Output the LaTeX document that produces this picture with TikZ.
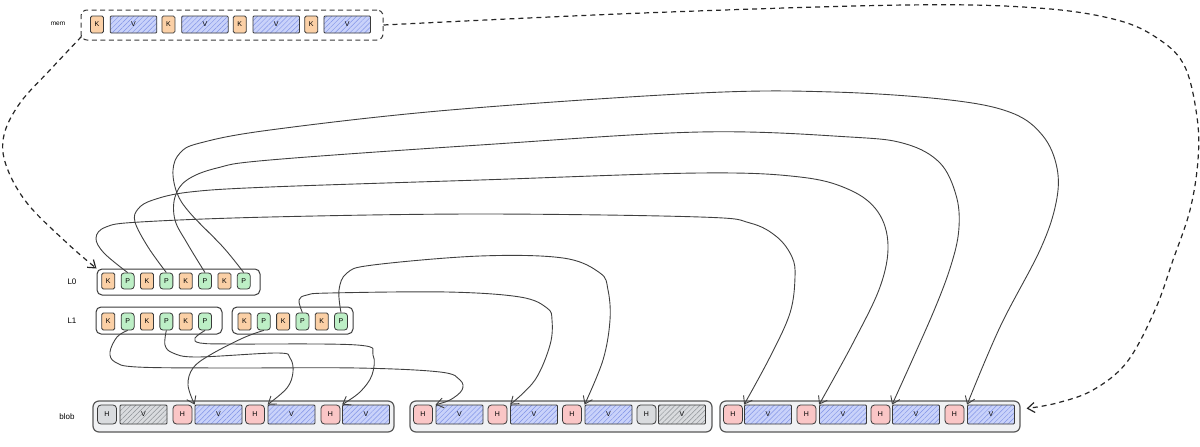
\documentclass[tikz,border=0pt]{standalone}
\usepackage{fontspec}
\setmainfont{Liberation Sans}
\usetikzlibrary{arrows.meta,patterns.meta}
\definecolor{kfill}{HTML}{FBD0A6}
\definecolor{pfill}{HTML}{BDEFC6}
\definecolor{vfill}{HTML}{C9D2FA}
\definecolor{vhatch}{HTML}{8093E6}
\definecolor{hfill}{HTML}{FAC6C6}
\definecolor{gfill}{HTML}{D9DBDE}
\definecolor{ghatch}{HTML}{8E9297}
\definecolor{stroke}{HTML}{3A3A3A}
\definecolor{blobfill}{HTML}{F0F1F3}
\begin{document}
\begin{tikzpicture}[x=1pt,y=-1pt,
  item/.style={draw=stroke,line width=0.8pt,inner sep=0pt,font=\fontsize{7}{8}\selectfont},
  kbox/.style={item,fill=kfill,rounded corners=1.5pt,minimum width=13pt,minimum height=16pt},
  pbox/.style={item,fill=pfill,rounded corners=3pt,minimum width=13pt,minimum height=16pt},
  hbox/.style={item,fill=hfill,rounded corners=3.5pt,minimum width=19pt,minimum height=19pt},
  ghbox/.style={item,fill=gfill,rounded corners=3.5pt,minimum width=19pt,minimum height=19pt},
  vbox/.style={item,preaction={fill=vfill},pattern={Lines[angle=45,distance=3.5pt,line width=0.45pt]},pattern color=vhatch,rounded corners=1pt,minimum width=47pt,minimum height=19pt},
  gvbox/.style={item,preaction={fill=gfill},pattern={Lines[angle=45,distance=3.5pt,line width=0.45pt]},pattern color=ghatch,rounded corners=1pt,minimum width=47pt,minimum height=19pt},
  groupbox/.style={draw=stroke,line width=1pt,fill=white,rounded corners=5pt,inner sep=0pt},
  blobbox/.style={draw=stroke!85,line width=1.2pt,fill=blobfill,rounded corners=6pt,inner sep=0pt},
  membox/.style={draw=stroke,line width=1pt,dash pattern=on 5pt off 3.5pt,rounded corners=6pt,inner sep=0pt},
  lab/.style={inner sep=0pt,font=\fontsize{8}{9}\selectfont},
  conn/.style={draw=black!75,line width=0.9pt,-{Straight Barb[length=7pt,width=10pt]}},
  dconn/.style={draw=black!85,line width=1.2pt,dash pattern=on 5pt off 4pt,-{Straight Barb[length=7pt,width=10pt]}}
]
\useasboundingbox (0,0) rectangle (1200,447);

% labels
\node[lab,font=\fontsize{6.5}{7}\selectfont] (labmem) at (58,24) {mem};
\node[lab] (labl0) at (72,282) {L0};
\node[lab] (labl1) at (72,321) {L1};
\node[lab] (labblob) at (67,417) {blob};

% group boxes
\node[membox,minimum width=302pt,minimum height=30pt] (membox) at (232,25) {};
\node[groupbox,minimum width=163pt,minimum height=26pt] (l0box) at (178.5,282) {};
\node[groupbox,minimum width=126pt,minimum height=27pt] (l1abox) at (159,320.5) {};
\node[groupbox,minimum width=121pt,minimum height=27pt] (l1bbox) at (292.5,320.5) {};
\node[blobbox,minimum width=301pt,minimum height=31pt] (b1box) at (243.5,416.5) {};
\node[blobbox,minimum width=302pt,minimum height=31pt] (b2box) at (561,416.5) {};
\node[blobbox,minimum width=300pt,minimum height=31pt] (b3box) at (870,416.5) {};

% mem items
\foreach \n/\x in {1/97,2/168.4,3/239.8,4/311.2}
  \node[kbox,minimum height=17pt] (memk\n) at (\x,24.5) {K};
\foreach \n/\x in {1/133.5,2/204.9,3/276.3,4/347.2}
  \node[vbox,minimum height=17pt,minimum width=46.5pt] (memv\n) at (\x,24.5) {V};

% L0 items
\foreach \n in {1,...,4}{
  \node[kbox] (l0k\n) at ({108.3+38.7*(\n-1)},281) {K};
  \node[pbox] (l0p\n) at ({127.65+38.7*(\n-1)},281) {P};
}
% L1 items
\foreach \n in {1,...,3}{
  \node[kbox,minimum height=17pt] (l1ak\n) at ({108.3+38.7*(\n-1)},321.5) {K};
  \node[pbox,minimum height=17pt] (l1ap\n) at ({127.65+38.7*(\n-1)},321.5) {P};
  \node[kbox,minimum height=17pt] (l1bk\n) at ({244.5+38.6*(\n-1)},321.5) {K};
  \node[pbox,minimum height=17pt] (l1bp\n) at ({263.8+38.6*(\n-1)},321.5) {P};
}

% blob 1
\node[ghbox] (b1h1) at (107,414.5) {H};
\node[gvbox] (b1v1) at (143.5,414.5) {V};
\node[hbox] (b1h2) at (182.5,414.5) {H};
\node[vbox] (b1v2) at (218.5,414.5) {V};
\node[hbox] (b1h3) at (255,414.5) {H};
\node[vbox] (b1v3) at (291.5,414.5) {V};
\node[hbox] (b1h4) at (330.5,414.5) {H};
\node[vbox] (b1v4) at (366,414.5) {V};
% blob 2
\node[hbox] (b2h1) at (423,414.5) {H};
\node[vbox] (b2v1) at (459.5,414.5) {V};
\node[hbox] (b2h2) at (497.5,414.5) {H};
\node[vbox] (b2v2) at (534,414.5) {V};
\node[hbox] (b2h3) at (572,414.5) {H};
\node[vbox] (b2v3) at (608.5,414.5) {V};
\node[ghbox] (b2h4) at (646.5,414.5) {H};
\node[gvbox] (b2v4) at (682,414.5) {V};
% blob 3
\node[hbox] (b3h1) at (733,414.5) {H};
\node[vbox] (b3v1) at (768,414.5) {V};
\node[hbox] (b3h2) at (806.5,414.5) {H};
\node[vbox] (b3v2) at (843,414.5) {V};
\node[hbox] (b3h3) at (880.5,414.5) {H};
\node[vbox] (b3v3) at (916,414.5) {V};
\node[hbox] (b3h4) at (954.5,414.5) {H};
\node[vbox] (b3v4) at (991,414.5) {V};

% L0 -> blob 3
\draw[conn] plot[smooth,tension=0.6] coordinates {(l0p1.north) (104,253) (96,238) (106,227) (140,222) (270,217) (480,214) (700,217) (750,223) (777,237) (792,257) (795,277) (790,313) (770,357) (b3v1.north west)};
\draw[conn] plot[smooth,tension=0.6] coordinates {(l0p2.north) (148,247) (135,222) (138,209) (153,200) (190,192) (270,187) (480,180) (700,173) (800,177) (850,190) (878,212) (888,245) (880,287) (853,343) (b3v2.north west)};
\draw[conn] plot[smooth,tension=0.6] coordinates {(l0p3.north) (187,243) (175,220) (175,197) (187,180) (217,168) (270,160) (480,145) (700,132) (850,137) (906,144) (940,163) (956,195) (959,227) (952,262) (933,313) (b3v3.north west)};
\draw[conn] plot[smooth,tension=0.6] coordinates {(l0p4.north) (223,247) (190,213) (177,193) (173,170) (180,153) (200,143) (270,130) (450,110) (700,93) (833,92) (950,100) (1012,113) (1043,136) (1057,168) (1056,203) (1040,250) (1000,327) (b3v4.north west)};

% L1 -> blobs
\draw[conn] plot[smooth,tension=0.6] coordinates {(l1ap1.south) (117,337) (110,352) (115,362) (137,367) (223,368) (357,368) (440,372) (460,380) (462,390) (450,400) (b2v1.north west)};
\draw[conn] plot[smooth,tension=0.6] coordinates {(l1ap2.south) (165,345) (173,353) (197,357) (277,353) (290,358) (293,372) (287,388) (b1v3.north west)};
\draw[conn] plot[smooth,tension=0.6] coordinates {(l1ap3.south) (195,338) (200,343) (230,344) (357,345) (373,355) (372,375) (360,392) (b1v4.north west)};
\draw[conn] plot[smooth,tension=0.6] coordinates {(l1bp1.south) (243,338) (210,355) (193,368) (188,385) (b1v2.north west)};
\draw[conn] plot[smooth,tension=0.6] coordinates {(l1bp2.north) (299,300) (307,295) (330,293) (447,292) (520,297) (547,308) (552,320) (550,345) (535,380) (b2v2.north west)};
\draw[conn] plot[smooth,tension=0.6] coordinates {(l1bp3.north) (339,290) (347,273) (373,265) (480,256) (563,258) (600,273) (608,290) (610,320) (603,360) (b2v3.north west)};

% mem dashed
\draw[dconn] plot[smooth,tension=0.6] coordinates {([shift={(1,-4)}]membox.south west) (50,70) (20,103) (4,135) (6,165) (27,203) (67,243) (l0box.north west)};
\draw[dconn] plot[smooth,tension=0.6] coordinates {(membox.east) (643,13) (906,5) (1038,8) (1117,20) (1160,40) (1185,67) (1197,117) (1198,160) (1190,210) (1173,260) (1155,310) (1127,362) (1093,390) (1057,403) ([shift={(6,-8)}]b3box.east)};
\end{tikzpicture}
\end{document}
